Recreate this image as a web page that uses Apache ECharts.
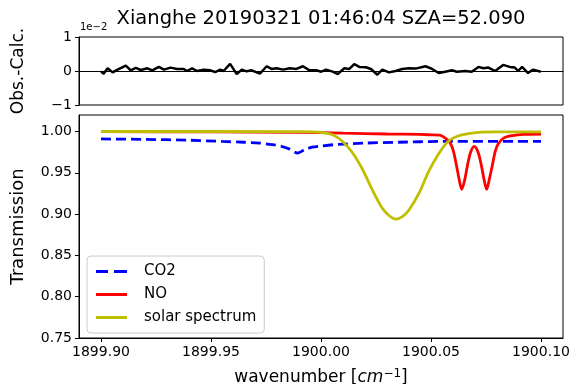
<!DOCTYPE html>
<html>
<head>
    <meta charset="UTF-8">
    <title>Xianghe transmission</title>
    <script src="https://cdn.jsdelivr.net/npm/echarts/dist/echarts.min.js"></script>
    <style>
        body { margin: 0; background: #fff; }
        #chart { width: 576px; height: 384px; }
    </style>
</head>
<body>
    <div id="chart"></div>
    <script>
        // residual (Obs.-Calc., in units of 1e-2)
        const resX = [1899.9000, 1899.9012, 1899.9030, 1899.9053, 1899.9075, 1899.9113, 1899.9135, 1899.9158, 1899.9181, 1899.9211,
            1899.9233, 1899.9263, 1899.9286, 1899.9316, 1899.9346, 1899.9376, 1899.9391, 1899.9414, 1899.9437, 1899.9466,
            1899.9497, 1899.9519, 1899.9542, 1899.9557, 1899.9587, 1899.9617, 1899.9640, 1899.9662, 1899.9685, 1899.9722,
            1899.9753, 1899.9775, 1899.9798, 1899.9828, 1899.9858, 1899.9888, 1899.9918, 1899.9948, 1899.9978, 1900.0001,
            1900.0023, 1900.0053, 1900.0076, 1900.0106, 1900.0129, 1900.0151, 1900.0174, 1900.0204, 1900.0227, 1900.0256,
            1900.0279, 1900.0309, 1900.0339, 1900.0369, 1900.0400, 1900.0430, 1900.0475, 1900.0505, 1900.0535, 1900.0565,
            1900.0595, 1900.0618, 1900.0656, 1900.0685, 1900.0716, 1900.0738, 1900.0761, 1900.0791, 1900.0828, 1900.0858,
            1900.0881, 1900.0896, 1900.0914, 1900.0941, 1900.0964, 1900.0999];
        const resY = [-0.01, -0.08, 0.08, -0.04, 0.04, 0.16, 0.02, 0.09, 0.03, 0.08,
            0.02, 0.12, 0.04, 0.10, 0.06, 0.06, 0.00, 0.08, 0.00, 0.04,
            0.02, -0.03, 0.04, 0.00, 0.21, -0.09, 0.04, -0.01, 0.02, -0.08,
            0.14, 0.06, 0.08, 0.04, 0.08, 0.06, 0.14, 0.02, 0.02, -0.02,
            0.04, -0.02, -0.09, 0.08, 0.06, 0.20, 0.12, 0.11, 0.06, -0.11,
            0.04, -0.04, 0.00, 0.06, 0.08, 0.07, 0.14, 0.06, -0.06, -0.02,
            0.02, -0.02, 0.00, -0.02, 0.12, 0.08, 0.10, 0.00, 0.18, 0.12,
            0.10, 0.00, 0.12, -0.06, 0.04, -0.02];

        // CO2 transmission
        const co2X = [1899.900, 1899.920, 1899.940, 1899.955, 1899.965, 1899.972, 1899.978, 1899.982, 1899.9855, 1899.9895,
            1899.9925, 1899.996, 1900.000, 1900.008, 1900.020, 1900.035, 1900.055, 1900.100];
        const co2Y = [0.991, 0.9905, 0.9895, 0.988, 0.987, 0.986, 0.984, 0.982, 0.979, 0.974,
            0.978, 0.981, 0.9825, 0.9845, 0.986, 0.987, 0.988, 0.988];

        // NO transmission
        const noX = [1899.900, 1899.950, 1899.990, 1900.010, 1900.030, 1900.045, 1900.050, 1900.054, 1900.0565, 1900.0585,
            1900.0600, 1900.0615, 1900.0628, 1900.0640, 1900.0652, 1900.0665, 1900.0680, 1900.0697, 1900.0714, 1900.0728,
            1900.0741, 1900.0753, 1900.0765, 1900.0778, 1900.0792, 1900.0805, 1900.0830, 1900.0870, 1900.0920, 1900.1000];
        const noY = [1.000, 0.9995, 0.999, 0.998, 0.997, 0.9965, 0.996, 0.9955, 0.992, 0.987,
            0.978, 0.960, 0.942, 0.930, 0.940, 0.958, 0.975, 0.982, 0.975, 0.960,
            0.942, 0.930, 0.942, 0.958, 0.976, 0.985, 0.992, 0.995, 0.9965, 0.997];

        // solar spectrum
        const solX = [1899.900, 1899.950, 1899.990, 1900.000, 1900.0053, 1900.0098, 1900.0144, 1900.0189, 1900.0234, 1900.0279,
            1900.0310, 1900.0340, 1900.0370, 1900.0400, 1900.0445, 1900.0490, 1900.0535, 1900.0570, 1900.0600, 1900.0640,
            1900.0716, 1900.0800, 1900.1000];
        const solY = [1.000, 1.000, 0.9998, 0.999, 0.996, 0.988, 0.974, 0.954, 0.929, 0.907,
            0.898, 0.894, 0.897, 0.905, 0.925, 0.952, 0.973, 0.986, 0.992, 0.996,
            0.999, 0.9995, 0.9995];

        const xTicks = [1899.90, 1899.95, 1900.00, 1900.05, 1900.10];
        const resTicks = [-1, 0, 1];
        const transTicks = [0.75, 0.80, 0.85, 0.90, 0.95, 1.00];

        const zip = (xs, ys) => xs.map((x, i) => [x, ys[i]]);

        const FONT = 'DejaVu Sans';
        const axisLine = { show: true, lineStyle: { color: '#000', width: 1 } };
        const axisTick = { show: true, inside: false, length: 4, lineStyle: { color: '#000' } };

        const chart = echarts.init(document.getElementById('chart'));
        chart.setOption({
            animation: false,
            textStyle: { fontFamily: FONT },
            grid: [
                { left: 79, right: 13, top: 37, height: 68, show: true, borderColor: '#000', borderWidth: 1,
                  containLabel: false, outerBoundsMode: 'none' },
                { left: 79, right: 13, top: 115, bottom: 46, show: true, borderColor: '#000', borderWidth: 1,
                  containLabel: false, outerBoundsMode: 'none' }
            ],
            graphic: [
                { type: 'text', x: 321, y: 19, silent: true,
                  style: { text: 'Xianghe 20190321 01:46:04 SZA=52.090', font: '19.5px DejaVu Sans', fill: '#000',
                           align: 'center', verticalAlign: 'middle' } },
                { type: 'text', x: 80, y: 22, silent: true,
                  style: { text: '1e\u22122', font: '10px DejaVu Sans', fill: '#000' } }
            ],
            legend: {
                orient: 'vertical', left: 87, top: 256,
                padding: [8, 8, 8, 9], itemGap: 8, itemWidth: 31, itemHeight: 3,
                borderColor: '#ccc', borderWidth: 1, borderRadius: 4,
                backgroundColor: 'rgba(255,255,255,0.8)',
                textStyle: { fontFamily: FONT, fontSize: 15, color: '#000', padding: [0, 0, 0, 12] },
                data: [
                    { name: 'CO2', icon: 'path://M0,0h12v3h-12zM18,0h13v3h-13z' },
                    { name: 'NO', icon: 'rect' },
                    { name: 'solar spectrum', icon: 'rect' }
                ]
            },
            xAxis: [
                { type: 'value', gridIndex: 0, min: 1899.89, max: 1900.11, axisLine: axisLine,
                  axisTick: { show: false }, axisLabel: { show: false }, splitLine: { show: false } },
                { type: 'value', gridIndex: 1, min: 1899.89, max: 1900.11, axisLine: axisLine,
                  axisTick: Object.assign({ customValues: xTicks }, axisTick),
                  axisLabel: { customValues: xTicks, fontSize: 14, color: '#000', margin: 7, formatter: v => v.toFixed(2) },
                  splitLine: { show: false },
                  name: 'wavenumber [{i|cm}{s|\u22121}]', nameLocation: 'middle', nameGap: 30,
                  nameTextStyle: { fontSize: 17, color: '#000', rich: {
                      i: { fontSize: 17, fontStyle: 'italic', fontFamily: FONT },
                      s: { fontSize: 12, verticalAlign: 'bottom', padding: [0, 0, 8, 0], fontFamily: FONT }
                  } } }
            ],
            yAxis: [
                { type: 'value', gridIndex: 0, min: -1, max: 1, axisLine: axisLine,
                  axisTick: Object.assign({ customValues: resTicks }, axisTick),
                  axisLabel: { customValues: resTicks, fontSize: 14, color: '#000', margin: 7,
                               formatter: v => v < 0 ? '\u2212' + Math.abs(v) : String(v) },
                  splitLine: { show: false },
                  name: 'Obs.-Calc.', nameLocation: 'middle', nameGap: 52, nameRotate: 90,
                  nameTextStyle: { fontSize: 17, color: '#000' } },
                { type: 'value', gridIndex: 1, min: 0.75, max: 1.02, axisLine: axisLine,
                  axisTick: Object.assign({ customValues: transTicks }, axisTick),
                  axisLabel: { customValues: transTicks, fontSize: 14, color: '#000', margin: 7, formatter: v => v.toFixed(2) },
                  splitLine: { show: false },
                  name: 'Transmission', nameLocation: 'middle', nameGap: 52, nameRotate: 90,
                  nameTextStyle: { fontSize: 18, color: '#000' } }
            ],
            series: [
                { name: 'Obs.-Calc.', type: 'line', xAxisIndex: 0, yAxisIndex: 0, symbol: 'none',
                  data: zip(resX, resY), lineStyle: { color: '#000', width: 2.5 } },
                { name: 'CO2', type: 'line', xAxisIndex: 1, yAxisIndex: 1, symbol: 'none', smooth: 0.3,
                  data: zip(co2X, co2Y), itemStyle: { color: '#0000ff' },
                  lineStyle: { color: '#0000ff', width: 2.8, type: [10, 5] } },
                { name: 'NO', type: 'line', xAxisIndex: 1, yAxisIndex: 1, symbol: 'none', smooth: 0.3,
                  data: zip(noX, noY), itemStyle: { color: '#ff0000' },
                  lineStyle: { color: '#ff0000', width: 2.8 } },
                { name: 'solar spectrum', type: 'line', xAxisIndex: 1, yAxisIndex: 1, symbol: 'none', smooth: 0.3,
                  data: zip(solX, solY), itemStyle: { color: '#bfbf00' },
                  lineStyle: { color: '#bfbf00', width: 2.8 } }
            ]
        });
    </script>
</body>
</html>
